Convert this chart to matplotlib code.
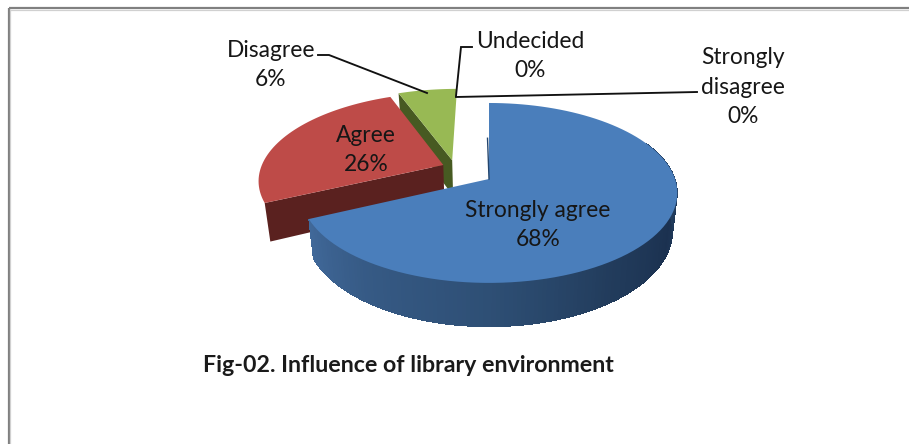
import numpy as np
import matplotlib
matplotlib.use("Agg")
import matplotlib.pyplot as plt
from matplotlib.collections import PolyCollection
from matplotlib.colors import to_rgb
from matplotlib.path import Path
from matplotlib.patches import Polygon
from matplotlib.transforms import Transform

categories = ["Strongly agree", "Agree", "Disagree", "Undecided", "Strongly disagree"]
values = [68, 26, 6, 0, 0]
label_text = ["Strongly agree", "Agree", "Disagree", "Undecided", "Strongly\ndisagree"]
title = "Fig-02. Influence of library environment"

# ---- layout / style (pixels of the 909x444 figure) ----
W, H = 909, 444
PX, PY, AX, BY, K = 489.0, 179.0, 186.0, 87.8, 0.155
DEPTH = 37.0
top_colors = ["#4a7ebb", "#be4b48", "#98b954", "#4a7ebb", "#be4b48"]
side_colors = {1: "#5a211f", 2: "#475a22"}
explode = [0.15, 0.15, 0.15, 0, 0]
nudges = [(0, 0), (0.014, 0.028), (-0.05, -0.007), (0, 0), (0, 0)]
label_pos = [(538, 225), (366, 150), (271, 65), (530, 56), (743, 87)]
FONT = "Lato"
TXT = "#161616"


def project(u, v):
    w = 1 + K * v
    return PX + AX * u / w, PY - BY * v / w


def project_low(u, v):
    w = 1 + K * v
    return PX + 0.975 * AX * u / w, PY - BY * v / w + DEPTH / w


class Persp(Transform):
    input_dims = output_dims = 2
    is_affine = False

    def transform_non_affine(self, values):
        values = np.asarray(values, float)
        x, y = project(values[:, 0], values[:, 1])
        return np.column_stack([x, y])

    def transform_path_non_affine(self, path):
        pts = []
        for bez, code in path.iter_bezier():
            if code == Path.MOVETO:
                continue
            pts.append(bez(np.linspace(0, 1, 14)))
        pts = np.vstack(pts)
        return Path(self.transform_non_affine(pts), closed=False)


fig = plt.figure(figsize=(W / 100, H / 100), dpi=100, facecolor="white")
ax = fig.add_axes([0, 0, 1, 1])
wedges, _ = ax.pie(values, explode=explode, startangle=90, counterclock=False,
                   colors=top_colors, center=(-0.1266, 0.0804), radius=1,
                   wedgeprops=dict(linewidth=0))
ax.set_aspect("auto")
ax.set_xlim(0, W)
ax.set_ylim(H, 0)
ax.axis("off")

persp = Persp()
for w, nd in zip(wedges, nudges):
    w.set_center((w.center[0] + nd[0], w.center[1] + nd[1]))
    w.set_transform(persp + ax.transData)
    w.set_clip_on(False)


def rim(w, deg):
    a = np.radians(deg)
    return w.center[0] + w.r * np.cos(a), w.center[1] + w.r * np.sin(a)


# stacking order: green, red, blue (far to near)
wedges[2].set_zorder(3)
wedges[1].set_zorder(5)
wedges[0].set_zorder(8)
for i, zo in ((2, 2), (1, 4)):
    w = wedges[i]
    ou, ov = rim(w, w.theta2)
    cu, cv = w.center
    pts = [project(cu, cv), project(ou, ov), project_low(ou, ov), project_low(cu, cv)]
    ax.add_patch(Polygon(pts, closed=True, fc=side_colors[i], ec="none", zorder=zo))

# blue outer wall, shaded along the rim
b = wedges[0]
th = np.linspace(b.theta1, 25, 160)
stops = [b.theta1, -125, -90, -55, -25, 0, 25]
cols = np.array([to_rgb(c) for c in ["#41699a", "#365a85", "#2e4f75", "#223c5c",
                                     "#1b3150", "#223d5e", "#223d5e"]])
polys, fcs = [], []
for t0, t1 in zip(th[:-1], th[1:]):
    u0, v0 = rim(b, t0)
    u1, v1 = rim(b, t1 + 0.6)
    polys.append([project(u0, v0), project(u1, v1), project_low(u1, v1), project_low(u0, v0)])
    tm = 0.5 * (t0 + t1)
    fcs.append([np.interp(tm, stops, cols[:, k]) for k in range(3)])
ax.add_collection(PolyCollection(polys, facecolors=fcs, edgecolors="none",
                                 antialiaseds=False, zorder=7))

# thin dark edge at the inner cut of the blue slice
eu, ev = rim(b, 90)
p0 = project(b.center[0], b.center[1])
p1 = project(b.center[0] + 0.5 * (eu - b.center[0]), b.center[1] + 0.5 * (ev - b.center[1]))
ax.plot([p0[0], p1[0] - 1.5], [p0[1], p1[1]], color="#24466e", lw=1.0, zorder=9)

# leader lines
leaders = [[(318, 55), (329, 55), (427, 93)],
           [(472, 47), (461, 47), (456, 96)],
           [(456, 97), (697, 92)]]
for ln in leaders:
    xs, ys = zip(*ln)
    ax.plot(xs, ys, color="#111111", lw=1.35, zorder=10, solid_joinstyle="miter")

# labels
for txt, val, (x, y) in zip(label_text, values, label_pos):
    ax.text(x, y, f"{txt}\n{val}%", ha="center", va="center", fontsize=16.4,
            family=FONT, color=TXT, linespacing=1.48, zorder=12)

ax.text(203, 365, title, ha="left", va="center", fontsize=16.7, family=FONT,
        fontweight="bold", color="#1a1a1a", zorder=12)

# picture border (top and left only)
ax.plot([9, W], [8.5, 8.5], color="#808080", lw=1.6, zorder=1, solid_capstyle="butt")
ax.plot([9, W], [10, 10], color="#d0d0d0", lw=0.9, zorder=1, solid_capstyle="butt")
ax.plot([8.8, 8.8], [8, H], color="#808080", lw=1.6, zorder=1, solid_capstyle="butt")
ax.plot([10.3, 10.3], [9, H], color="#d0d0d0", lw=0.9, zorder=1, solid_capstyle="butt")

fig.savefig("out.png", dpi=100, facecolor="white")
